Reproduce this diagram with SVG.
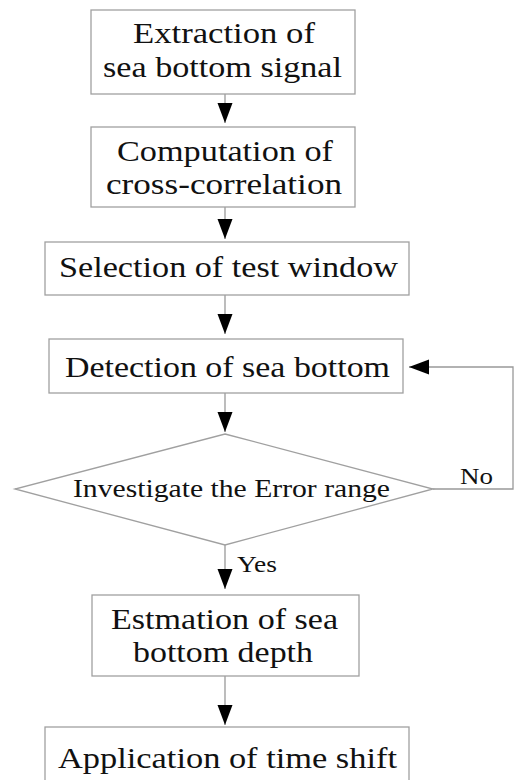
<svg xmlns="http://www.w3.org/2000/svg" width="517" height="780" viewBox="0 0 517 780">
<style>
.box{fill:#fff;stroke:#a0a0a0;stroke-width:1.3}
.t{font-family:"Liberation Serif","Times New Roman",serif;font-size:30px;fill:#111}
.s{font-family:"Liberation Serif","Times New Roman",serif;font-size:23px;fill:#111}
.d{font-family:"Liberation Serif","Times New Roman",serif;font-size:25px;fill:#111}
.c{fill:none;stroke:#999;stroke-width:1.3}
</style>
<defs>
<marker id="ah" markerUnits="userSpaceOnUse" markerWidth="20" markerHeight="16" refX="20" refY="8" orient="auto">
<path d="M0,0.5 L20,8 L0,15.5 z" fill="#000"/>
</marker>
</defs>
<rect width="517" height="780" fill="#fff"/>
<g id="connectors">
<line class="c" x1="225" y1="94" x2="225" y2="123" marker-end="url(#ah)"/>
<line class="c" x1="225" y1="207" x2="225" y2="239" marker-end="url(#ah)"/>
<line class="c" x1="225" y1="295" x2="225" y2="334" marker-end="url(#ah)"/>
<line class="c" x1="225" y1="393" x2="225" y2="432" marker-end="url(#ah)"/>
<line class="c" x1="225" y1="545" x2="225" y2="589" marker-end="url(#ah)"/>
<line class="c" x1="225" y1="676" x2="225" y2="725" marker-end="url(#ah)"/>
<polyline class="c" points="433,489 513,489 513,367 409,367" marker-end="url(#ah)"/>
<text class="s" x="460" y="484" textLength="33" lengthAdjust="spacingAndGlyphs">No</text>
<text class="s" x="237" y="572" textLength="40" lengthAdjust="spacingAndGlyphs">Yes</text>
</g>
<g id="n1">
<rect class="box" x="91" y="10" width="264" height="84"/>
<text class="t" x="133" y="43" textLength="182" lengthAdjust="spacingAndGlyphs">Extraction of</text>
<text class="t" x="103" y="77" textLength="239" lengthAdjust="spacingAndGlyphs">sea bottom signal</text>
</g>
<g id="n2">
<rect class="box" x="91" y="127" width="264" height="80"/>
<text class="t" x="117" y="161" textLength="216" lengthAdjust="spacingAndGlyphs">Computation of</text>
<text class="t" x="106" y="194" textLength="236" lengthAdjust="spacingAndGlyphs">cross-correlation</text>
</g>
<g id="n3">
<rect class="box" x="45" y="242" width="364" height="53"/>
<text class="t" x="59" y="277" textLength="339" lengthAdjust="spacingAndGlyphs">Selection of test window</text>
</g>
<g id="n4">
<rect class="box" x="49" y="339" width="354" height="54"/>
<text class="t" x="65" y="377" textLength="325" lengthAdjust="spacingAndGlyphs">Detection of sea bottom</text>
</g>
<g id="n5">
<polygon class="box" points="225,434 433,489 225,545 15,489"/>
<text class="d" x="73" y="497" textLength="317" lengthAdjust="spacingAndGlyphs">Investigate the Error range</text>
</g>
<g id="n6">
<rect class="box" x="92" y="595" width="267" height="81"/>
<text class="t" x="111" y="629" textLength="227" lengthAdjust="spacingAndGlyphs">Estmation of sea</text>
<text class="t" x="133" y="662" textLength="180" lengthAdjust="spacingAndGlyphs">bottom depth</text>
</g>
<g id="n7">
<rect class="box" x="45" y="727" width="364" height="70"/>
<text class="t" x="58" y="768" textLength="339" lengthAdjust="spacingAndGlyphs">Application of time shift</text>
</g>
</svg>
